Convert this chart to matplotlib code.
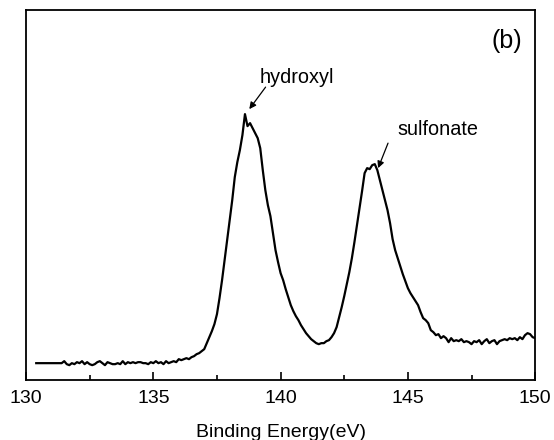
import numpy as np
import matplotlib
matplotlib.use("Agg")
import matplotlib.pyplot as plt
from matplotlib.ticker import MultipleLocator

plt.rcParams['font.family'] = ['Liberation Sans', 'DejaVu Sans']

# XPS S 2p style spectrum (0.1 eV steps from 130.4 to 150.0)
intensity = [
    17, 17, 17, 17, 17, 17, 17, 17, 17, 17, 17,                     # 130.4 - 131.4
    19, 16, 15, 17, 16, 18, 17, 19, 16, 18,                         # 131.5 - 132.4
    16, 15, 16, 18, 19, 17, 15, 18, 17, 16,                         # 132.5 - 133.4
    16, 17, 16, 19, 16, 18, 17, 18, 17, 18,                         # 133.5 - 134.4
    18, 17, 17, 16, 18, 17, 19, 17, 18, 16,                         # 134.5 - 135.4
    19, 17, 18, 19, 18, 21, 20, 21, 22, 21,                         # 135.5 - 136.4
    23, 24, 26, 27, 29, 31, 37, 43, 49, 56,                         # 136.5 - 137.4
    66, 82, 100, 120, 140, 160, 180, 203, 218, 230,                 # 137.5 - 138.4
    245, 266, 254, 257, 252, 247, 242, 232, 210, 190,               # 138.5 - 139.4
    175, 164, 147, 130, 118, 107, 100, 91, 83, 75,                  # 139.5 - 140.4
    69, 64, 60, 55, 51, 47, 44, 41, 39, 37,                         # 140.5 - 141.4
    36, 37, 37, 39, 40, 43, 47, 53, 63, 73,                         # 141.5 - 142.4
    84, 96, 108, 122, 138, 155, 172, 189, 207, 212,                 # 142.5 - 143.4
    211, 215, 216, 210, 200, 190, 180, 170, 157, 141,               # 143.5 - 144.4
    130, 122, 114, 106, 99, 92, 87, 83, 79, 75,                     # 144.5 - 145.4
    68, 62, 60, 57, 50, 48, 45, 46, 42, 44,                         # 145.5 - 146.4
    42, 38, 42, 39, 40, 39, 41, 38, 39, 38,                         # 146.5 - 147.4
    36, 39, 38, 40, 36, 39, 41, 37, 39, 40,                         # 147.5 - 148.4
    36, 39, 40, 41, 40, 42, 41, 42, 40, 43,                         # 148.5 - 149.4
    41, 45, 47, 46, 43, 42,                                         # 149.5 - 150.0
]
energy = np.linspace(130.4, 150.0, len(intensity))

labels = ["hydroxyl", "sulfonate"]
label_xy = [(139.16, 297), (144.58, 245)]
arrow_tail = [(139.41, 293), (144.22, 237)]
arrow_tip = [(138.77, 271), (143.83, 212)]

fig = plt.figure(figsize=(5.54, 4.40), dpi=100)
ax = fig.add_axes([0.047, 0.136, 0.919, 0.841])

ax.plot(energy, intensity, color='black', lw=1.6)

ax.set_xlim(130, 150)
ax.set_ylim(0, 370)
ax.set_yticks([])
ax.xaxis.set_major_locator(MultipleLocator(5))
ax.xaxis.set_minor_locator(MultipleLocator(2.5))
ax.tick_params(axis='x', which='major', direction='in', length=6, width=1.2,
               labelsize=14, pad=7)
ax.tick_params(axis='x', which='minor', direction='in', length=3.5, width=1.2)
for s in ax.spines.values():
    s.set_linewidth(1.3)

ax.set_xlabel("Binding Energy(eV)", fontsize=14, labelpad=12)

for lab, pos, tail, tip in zip(labels, label_xy, arrow_tail, arrow_tip):
    ax.text(pos[0], pos[1], lab, fontsize=14.3, ha='left', va='baseline')
    ax.annotate("", xy=tip, xytext=tail,
                arrowprops=dict(arrowstyle='-|>', color='black', lw=0.9,
                                mutation_scale=10, shrinkA=0, shrinkB=0))

ax.text(0.975, 0.95, "(b)", transform=ax.transAxes, fontsize=18,
        ha='right', va='top')

fig.savefig("out.png", dpi=100)
